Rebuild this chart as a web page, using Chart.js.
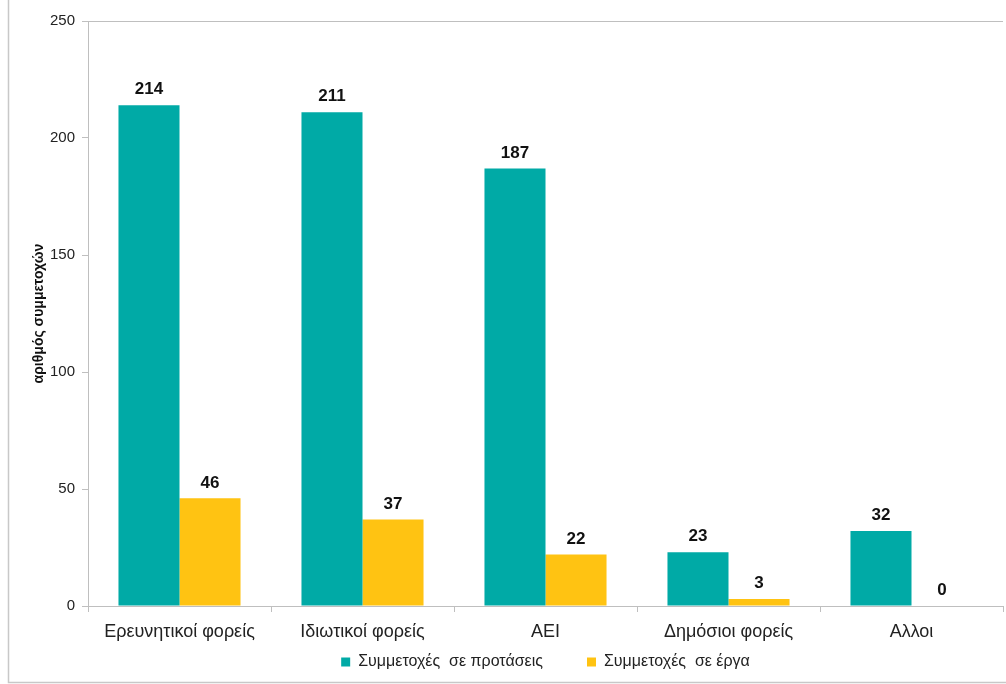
<!DOCTYPE html>
<html>
<head>
<meta charset="utf-8">
<script src="https://cdn.jsdelivr.net/npm/chart.js@4"></script>
<style>
  html, body { margin: 0; padding: 0; background: #fff; }
  #wrap { width: 1006px; height: 684px; position: relative; }
</style>
</head>
<body>
<div id="wrap"><canvas id="c" width="1006" height="684"></canvas></div>
<script>
// categories and values
const categories = ['Ερευνητικοί φορείς', 'Ιδιωτικοί φορείς', 'ΑΕΙ', 'Δημόσιοι φορείς', 'Αλλοι'];
const proposals = [214, 211, 187, 23, 32];
const projects = [46, 37, 22, 3, 0];
const seriesNames = ['Συμμετοχές  σε προτάσεις', 'Συμμετοχές  σε έργα'];
const yTicks = [0, 50, 100, 150, 200, 250];

const TEAL = '#00aaa6';
const YELLOW = '#ffc312';
const AXIS = '#bfbfbf';
const FONT = "'Liberation Sans', Arial, sans-serif";

// value labels above each bar
const barLabels = {
    id: 'barLabels',
    afterDatasetsDraw(chart) {
        const ctx = chart.ctx;
        ctx.save();
        ctx.font = 'bold 17px ' + FONT;
        ctx.fillStyle = '#111';
        ctx.textAlign = 'center';
        ctx.textBaseline = 'bottom';
        chart.data.datasets.forEach((ds, i) => {
            chart.getDatasetMeta(i).data.forEach((bar, j) => {
                ctx.fillText(String(ds.data[j]), bar.x, bar.y - 7);
            });
        });
        ctx.restore();
    }
};

// outer frame (left and bottom edge of the picture)
const frame = {
    id: 'frame',
    beforeDraw(chart) {
        const ctx = chart.ctx;
        ctx.save();
        ctx.strokeStyle = '#c8c8c8';
        ctx.lineWidth = 1.5;
        ctx.beginPath();
        ctx.moveTo(8.5, 0);
        ctx.lineTo(8.5, 682.5);
        ctx.lineTo(1006, 682.5);
        ctx.stroke();
        ctx.restore();
    }
};

new Chart(document.getElementById('c'), {
    type: 'bar',
    data: {
        labels: categories,
        datasets: [
            { label: seriesNames[0], data: proposals, backgroundColor: TEAL, categoryPercentage: 0.667, barPercentage: 1 },
            { label: seriesNames[1], data: projects, backgroundColor: YELLOW, categoryPercentage: 0.667, barPercentage: 1 }
        ]
    },
    options: {
        responsive: false,
        animation: false,
        layout: { padding: { left: 0, right: 3, top: 21, bottom: 4 } },
        scales: {
            x: {
                border: { display: true, color: AXIS, width: 1 },
                grid: { color: 'rgba(0,0,0,0)', tickColor: AXIS, tickLength: 6, offset: true },
                ticks: { color: '#222', font: { family: FONT, size: 18 }, padding: 9 },
                afterFit(scale) { scale.height = 44; }
            },
            y: {
                min: 0, max: 250,
                afterBuildTicks(scale) { scale.ticks = yTicks.map(v => ({ value: v })); },
                border: { display: true, color: AXIS, width: 1 },
                grid: {
                    color: ctx => ctx.tick && ctx.tick.value === 250 ? AXIS : 'rgba(0,0,0,0)',
                    tickColor: AXIS, tickLength: 6
                },
                ticks: { color: '#222', font: { family: FONT, size: 15 }, padding: 7 },
                title: { display: true, text: 'αριθμός συμμετοχών', color: '#111', font: { family: FONT, size: 14, weight: 'bold' }, padding: { top: 31, bottom: 0 } },
                afterFit(scale) { scale.width = 88; }
            }
        },
        plugins: {
            legend: {
                position: 'bottom',
                fullSize: false,
                labels: {
                    color: '#222', font: { family: FONT, size: 16 }, boxWidth: 9, boxHeight: 9, padding: 4,
                    // widen the gap between the two entries
                    generateLabels(chart) {
                        const items = Chart.defaults.plugins.legend.labels.generateLabels(chart);
                        items[0].text = items[0].text + '         ';
                        return items;
                    }
                }
            },
            tooltip: { enabled: false }
        }
    },
    plugins: [barLabels, frame]
});
</script>
</body>
</html>
